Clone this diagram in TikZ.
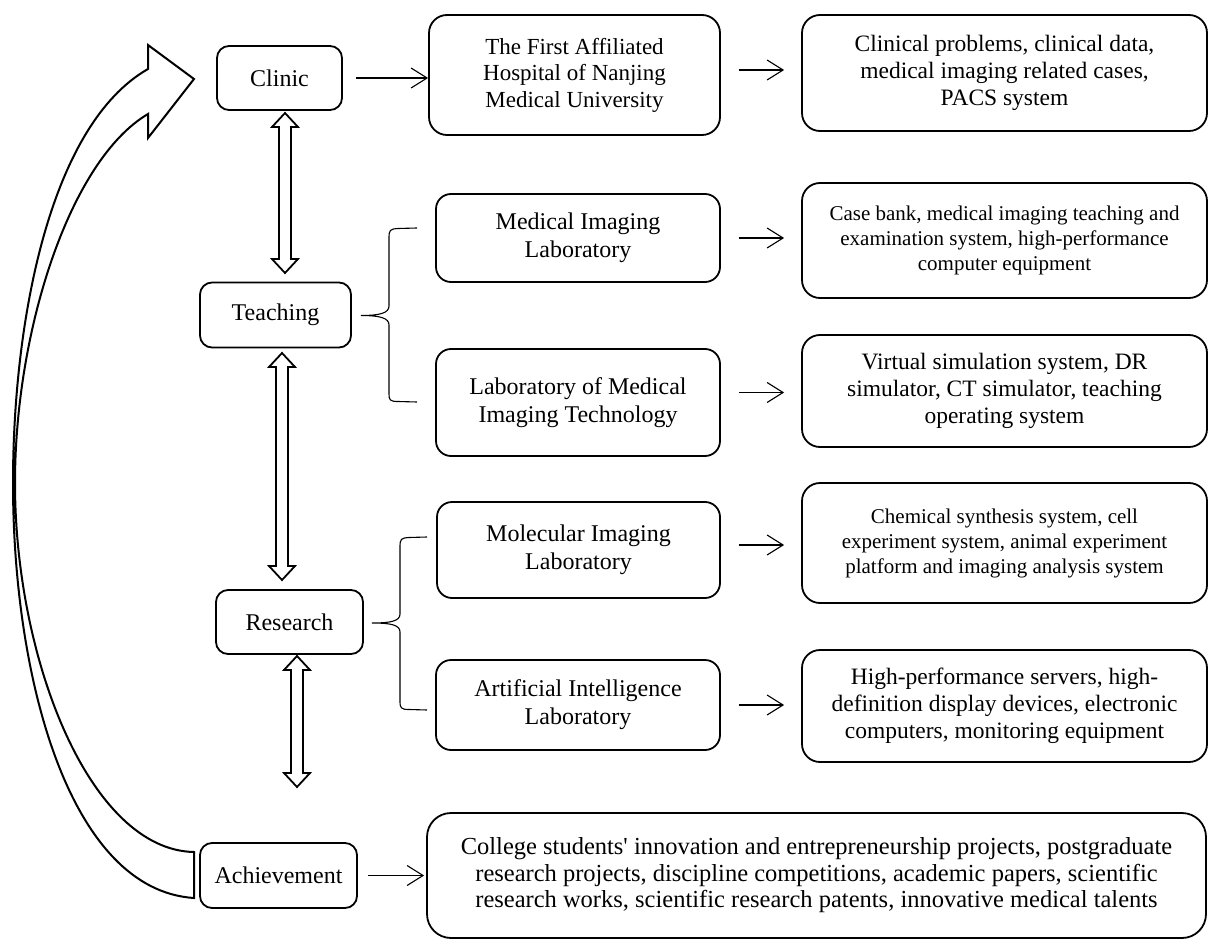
\documentclass[tikz,border=0pt]{standalone}
\usepackage{fontspec}
\setmainfont{Liberation Serif}[Ligatures=TeXOff]
\usetikzlibrary{arrows.meta}
\tikzset{
  box/.style={draw, line width=1.8pt, rounded corners=12pt, align=center, inner sep=0pt, font=\fontsize{24}{28}\selectfont},
  labbox/.style={box, rounded corners=15pt},
  resbox/.style={box, rounded corners=18pt, font=\fontsize{23.5}{27}\selectfont},
  smalltext/.style={font=\fontsize{21}{25}\selectfont},
  link/.style={line width=1.1pt, -{Straight Barb[length=16pt,width=20pt,line width=1.1pt]}},
  brace/.style={line width=1.1pt},
  dbl/.style={draw, line width=1.8pt, fill=white, line join=miter},
  bigarrow/.style={draw, line width=2pt, fill=white, line join=miter}
}
\newcommand{\dblarrow}[3]{% x, ytop, ybottom
  \draw[dbl] (#1,#2) -- (#1+13,#2+14) -- (#1+6,#2+14) -- (#1+6,#3-14) -- (#1+13,#3-14) -- (#1,#3)
    -- (#1-13,#3-14) -- (#1-6,#3-14) -- (#1-6,#2+14) -- (#1-13,#2+14) -- cycle;}
\begin{document}
\begin{tikzpicture}[x=1pt,y=-1pt]
\useasboundingbox (0,0) rectangle (1208,939);

% left column
\node[box, minimum width=125pt, minimum height=64pt] (clinic) at (279.5,78) {Clinic};
\node[box, minimum width=151pt, minimum height=65pt] (teaching) at (275.5,315) {Teaching};
\node[box, minimum width=147pt, minimum height=64pt] (research) at (289.5,622) {Research};
\node[box, minimum width=157pt, minimum height=65pt] (achieve) at (278.5,875.5) {Achievement};

% middle column
\node[labbox, minimum width=291pt, minimum height=120pt, rounded corners=18pt, font=\fontsize{23}{26.5}\selectfont] (hosp) at (574.5,75) {The First Affiliated\\Hospital of Nanjing\\Medical University};
\node[labbox, minimum width=284pt, minimum height=88pt] (mil) at (578,238) {Medical Imaging\\Laboratory};
\node[labbox, minimum width=284pt, minimum height=107pt] (lmit) at (578,402.5) {Laboratory of Medical\\Imaging Technology};
\node[labbox, minimum width=283pt, minimum height=96pt] (molil) at (578.5,550) {Molecular Imaging\\Laboratory};
\node[labbox, minimum width=284pt, minimum height=90pt] (ai) at (578,705) {Artificial Intelligence\\Laboratory};

% right column
\node[resbox, minimum width=405pt, minimum height=116pt] (clinprob) at (1004.5,73) {Clinical problems, clinical data,\\medical imaging related cases,\\PACS system};
\node[resbox, smalltext, minimum width=405pt, minimum height=115pt] (casebank) at (1004.5,240.5) {Case bank, medical imaging teaching and\\examination system, high-performance\\computer equipment};
\node[resbox, minimum width=405pt, minimum height=112pt] (virtual) at (1004.5,391) {Virtual simulation system, DR\\simulator, CT simulator, teaching\\operating system};
\node[resbox, smalltext, minimum width=405pt, minimum height=120pt] (chem) at (1004.5,543) {Chemical synthesis system, cell\\experiment system, animal experiment\\platform and imaging analysis system};
\node[resbox, minimum width=405pt, minimum height=112pt] (hp) at (1004.5,706) {High-performance servers, high-\\definition display devices, electronic\\computers, monitoring equipment};
\node[resbox, rounded corners=24pt, font=\fontsize{24.5}{26.5}\selectfont, minimum width=779pt, minimum height=125pt] (college) at (816.5,875.5) {College students' innovation and entrepreneurship projects, postgraduate\\research projects, discipline competitions, academic papers, scientific\\research works, scientific research patents, innovative medical talents};

% thin arrows (horizontal)
\draw[link] ([xshift=13pt]clinic.east) -- (hosp.west |- clinic.east);
\draw[link] ([xshift=18pt,yshift=5pt]hosp.east) -- ([xshift=-17pt,yshift=5pt]clinprob.west |- hosp.east);
\draw[link] ([xshift=18pt]mil.east) -- ([xshift=-17pt]casebank.west |- mil.east);
\draw[link] ([xshift=18pt,yshift=10pt]lmit.east) -- ([xshift=-17pt,yshift=10pt]virtual.west |- lmit.east);
\draw[link] ([xshift=18pt,yshift=5pt]molil.east) -- ([xshift=-17pt,yshift=5pt]chem.west |- molil.east);
\draw[link] ([xshift=18pt]ai.east) -- ([xshift=-17pt]hp.west |- ai.east);
\draw[link] ([xshift=10pt]achieve.east) -- ([xshift=-2pt]college.west |- achieve.east);

% braces
\draw[brace] (417,228) -- (398,228.5) .. controls (390,229) and (389,230) .. (389,238) -- (389,306)
  .. controls (389,313) and (380,315.5) .. (361,315.5) .. controls (380,315.5) and (389,318) .. (389,325)
  -- (389,394) .. controls (389,400) and (390,401.5) .. (398,401.5) -- (417,402);
\draw[brace] (427,537) -- (409,537.5) .. controls (401,538) and (400,539) .. (400,547) -- (400,614)
  .. controls (400,621) and (391,623) .. (372,623) .. controls (391,623) and (400,625) .. (400,632)
  -- (400,701) .. controls (400,708) and (401,709.5) .. (409,709.5) -- (427,710);

% double arrows
\dblarrow{285}{113}{273}
\dblarrow{282}{353}{580}
\dblarrow{297}{656}{787}

% big curved arrow
\draw[bigarrow] (148,69) -- (148,45) -- (194,79) -- (148,138) -- (148,114)
  .. controls (70,160) and (15,330) .. (15,483)
  .. controls (15,660) and (90,850) .. (194,852)
  -- (194,898)
  .. controls (70,890) and (13,680) .. (13,483)
  .. controls (13,320) and (50,125) .. (148,69) -- cycle;
\end{tikzpicture}
\end{document}
